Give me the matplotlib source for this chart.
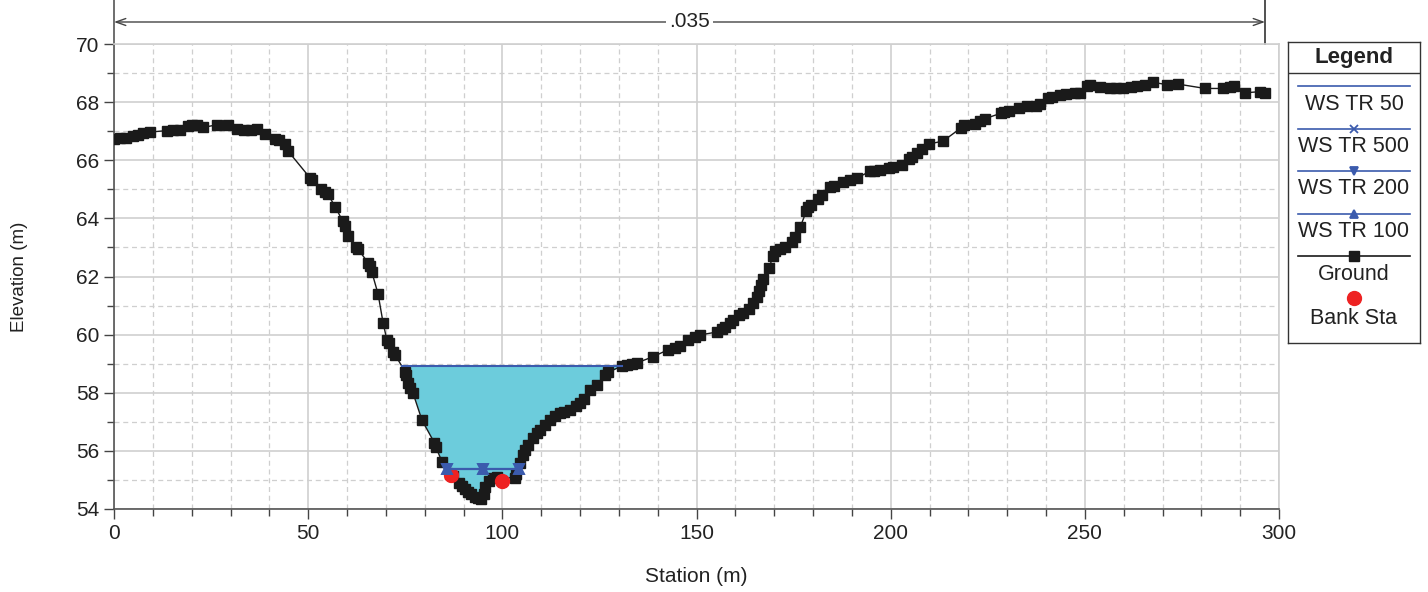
import numpy as np
import matplotlib
matplotlib.use('Agg')
import matplotlib.pyplot as plt

plt.rcParams['font.family'] = ['Liberation Sans', 'DejaVu Sans']

# Ground profile (station, elevation)
station = [0, 1.5, 3, 4.9, 6.2, 7.5, 9.3, 13.6, 15.3, 17, 19, 20.2, 21.4, 23, 26.5,
           29.4, 31.6, 33.5, 35.2, 36.8, 38.9, 41.5, 42.6, 44, 44.8, 50.5, 51, 53.4,
           54.4, 55, 57, 58.9, 59.5, 60.3, 62.3, 62.8, 65.5, 66, 66.4, 68, 69.3, 70.3,
           70.7, 71.9, 72.4, 75, 75.3, 75.7, 76.2, 77, 79.3, 82.5, 82.8, 84.5, 86.5,
           87.2, 88.8, 89.5, 90.5, 91.2, 92, 93, 93.8, 94.6, 95.2, 95.6, 96.5, 97.6,
           98.5, 103.3, 103.6, 104.6, 105.2, 105.8, 106.5, 108, 108.8, 109.7, 111,
           112.3, 113.5, 114.9, 116, 117.4, 119, 120, 121, 122.6, 124.4, 126.5, 127.2,
           130.9, 132, 133.5, 134.7, 138.8, 142.7, 144.5, 145.8, 147.8, 149.5, 150.9,
           155.3, 156.5, 157.4, 158.5, 159.4, 161, 162, 163.5, 164.6, 165.5, 166.1,
           166.6, 167.1, 168.7, 169.7, 170.3, 171.5, 172.8, 174.5, 175.4, 176.7,
           178.3, 178.8, 179.5, 181.2, 182.3, 184.4, 185.3, 187.7, 189.5, 191.3,
           194.7, 195.7, 197.3, 199.5, 200.6, 202.9, 204.8, 205.4, 206.8, 208.1,
           209.9, 213.5, 218.2, 218.8, 221.8, 223, 224.3, 228.4, 229.3, 230.5, 233,
           235.2, 237.5, 238.5, 240.5, 241.5, 243.6, 245.2, 247.5, 248.8, 250.5,
           251.3, 253.9, 256.5, 258, 259.9, 262, 263.4, 265.5, 267.6, 271.2, 274,
           281, 285.6, 287.4, 288.5, 291.3, 295, 296.4]
elevation = [66.74, 66.75, 66.77, 66.85, 66.88, 66.93, 66.97, 67.02, 67.04, 67.05,
             67.18, 67.22, 67.2, 67.13, 67.22, 67.22, 67.08, 67.05, 67.04, 67.07,
             66.92, 66.74, 66.7, 66.56, 66.32, 65.39, 65.33, 65.02, 64.92, 64.85,
             64.39, 63.9, 63.75, 63.4, 63.0, 62.95, 62.46, 62.35, 62.15, 61.4, 60.4,
             59.8, 59.7, 59.4, 59.3, 58.72, 58.6, 58.35, 58.15, 57.99, 57.06, 56.28,
             56.15, 55.62, 55.2, 55.12, 54.9, 54.8, 54.7, 54.6, 54.52, 54.42, 54.38,
             54.35, 54.5, 54.75, 54.95, 55.06, 55.1, 55.06, 55.2, 55.58, 55.85, 56.03,
             56.2, 56.44, 56.6, 56.72, 56.9, 57.06, 57.2, 57.3, 57.35, 57.41, 57.55,
             57.65, 57.8, 58.1, 58.27, 58.6, 58.7, 58.93, 58.97, 59.0, 59.03, 59.24,
             59.48, 59.55, 59.6, 59.8, 59.92, 59.99, 60.09, 60.2, 60.27, 60.4, 60.5,
             60.68, 60.76, 60.88, 61.1, 61.3, 61.5, 61.7, 61.92, 62.3, 62.7, 62.88,
             62.95, 63.02, 63.2, 63.36, 63.7, 64.25, 64.38, 64.45, 64.68, 64.8,
             65.08, 65.12, 65.25, 65.32, 65.39, 65.62, 65.64, 65.66, 65.74, 65.77,
             65.84, 66.05, 66.12, 66.25, 66.39, 66.56, 66.66, 67.12, 67.22, 67.25,
             67.35, 67.43, 67.62, 67.66, 67.7, 67.8, 67.85, 67.88, 67.92, 68.13,
             68.18, 68.24, 68.28, 68.31, 68.33, 68.55, 68.58, 68.52, 68.5, 68.47,
             68.48, 68.52, 68.55, 68.6, 68.68, 68.6, 68.62, 68.47, 68.47, 68.53,
             68.55, 68.32, 68.36, 68.33]

# Water surfaces
ws50_sta = [74.1, 130.8]
ws50_el = [58.92, 58.92]
ws_low_sta = [85.8, 95.0, 104.3]   # TR 500 / 200 / 100 coincide
ws_low_el = [55.38, 55.38, 55.38]

# Bank stations
bank_sta = [86.8, 99.9]
bank_el = [55.17, 54.96]

n_value = '.035'

ws_color = '#3B5BAD'
fill_color = '#6CCCDC'
grid_col = '#cfcfcf'

fig = plt.figure(figsize=(14.28, 5.92), dpi=100)
ax = fig.add_axes([114 / 1428, 1 - 509 / 592, (1279 - 114) / 1428, (509 - 44) / 592])

sta = np.array(station)
el = np.array(elevation)
ax.fill_between(sta, el, ws50_el[0], where=el <= ws50_el[0], interpolate=True,
                color=fill_color, lw=0, zorder=2)
ax.plot(sta, el, '-', color='#1a1a1a', lw=1.0, marker='s', ms=7, zorder=3)
ax.plot(ws50_sta, ws50_el, '-', color=ws_color, lw=1.5, zorder=4)
ax.plot(bank_sta, bank_el, 'o', color='#EE2222', ms=10, zorder=4)
for m in ['x', 'v', '^']:
    ax.plot(ws_low_sta, ws_low_el, '-', color=ws_color, lw=1.5, marker=m, ms=7,
            mew=1.4, zorder=5)

ax.set_xlim(0, 300)
ax.set_ylim(54, 70)
ax.set_xticks(np.arange(0, 301, 50))
ax.set_xticks(np.arange(0, 301, 10), minor=True)
ax.set_yticks(np.arange(54, 71, 2))
ax.set_yticks(np.arange(54, 71, 1), minor=True)
ax.grid(True, which='major', color=grid_col, lw=1.2, ls='-')
ax.grid(True, which='minor', color=grid_col, lw=0.9, ls=(0, (4, 3)))
ax.set_axisbelow(True)
ax.tick_params(which='major', length=7, width=1, color='#444444',
               labelsize=15, labelcolor='#222222')
ax.tick_params(which='minor', length=5, width=1, color='#444444')
for s in ['top', 'right']:
    ax.spines[s].set_color(grid_col)
    ax.spines[s].set_linewidth(1.2)
for s in ['left', 'bottom']:
    ax.spines[s].set_color('#555555')
    ax.spines[s].set_linewidth(1.2)

ax.set_xlabel('Station (m)', fontsize=15, color='#222222')
ax.set_ylabel('Elevation (m)', fontsize=13.5, color='#222222')
ax.xaxis.set_label_coords(0.5, -0.125)
ax.yaxis.set_label_coords(-0.074, 0.5)

# n-value annotation above the plot
y_top = 70 + 44 / 29.06
y_arrow = 70 + 22 / 29.06
x_end = sta[-1]
ax.plot([0, 0], [70, y_top], color='#555555', lw=1.2, clip_on=False)
ax.plot([x_end, x_end], [70, y_top], color='#333333', lw=1.2, clip_on=False)
ax.annotate('', xy=(0, y_arrow), xytext=(x_end, y_arrow),
            arrowprops=dict(arrowstyle='<->,head_length=0.7,head_width=0.25',
                            color='#444444', lw=1.0, shrinkA=0, shrinkB=0),
            annotation_clip=False)
ax.text(x_end / 2, y_arrow, n_value, ha='center', va='center', fontsize=15,
        color='#222222', bbox=dict(facecolor='white', edgecolor='none', pad=2),
        clip_on=False)

# legend box drawn by hand (lines above labels)
lg = fig.add_axes([1288 / 1428, 1 - 343 / 592, 132 / 1428, 301 / 592])
lg.set_xlim(0, 132)
lg.set_ylim(301, 0)
lg.set_xticks([])
lg.set_yticks([])
for s in lg.spines.values():
    s.set_color('#333333')
    s.set_linewidth(1.0)
lg.axhline(31, color='#333333', lw=1.0)
lg.text(66, 15, 'Legend', ha='center', va='center', fontsize=16, fontweight='bold',
        color='#222222')
items = [('WS TR 50', ws_color, None), ('WS TR 500', ws_color, 'x'),
         ('WS TR 200', ws_color, 'v'), ('WS TR 100', ws_color, '^')]
for i, (lab, c, m) in enumerate(items):
    yl = 44 + i * 42.5
    lg.plot([10, 122], [yl, yl], '-', color=c, lw=1.2)
    if m:
        lg.plot([66], [yl], marker=m, color=c, ms=6, mew=1.3)
    lg.text(66, yl + 18, lab, ha='center', va='center', fontsize=15.5, color='#222222')
lg.plot([10, 122], [214, 214], '-', color='#1a1a1a', lw=1.2)
lg.plot([66], [214], 's', color='#1a1a1a', ms=7)
lg.text(66, 232, 'Ground', ha='center', va='center', fontsize=15.5, color='#222222')
lg.plot([66], [256], 'o', color='#EE2222', ms=10)
lg.text(66, 276, 'Bank Sta', ha='center', va='center', fontsize=15.5, color='#222222')

fig.savefig('out.png', dpi=100)
